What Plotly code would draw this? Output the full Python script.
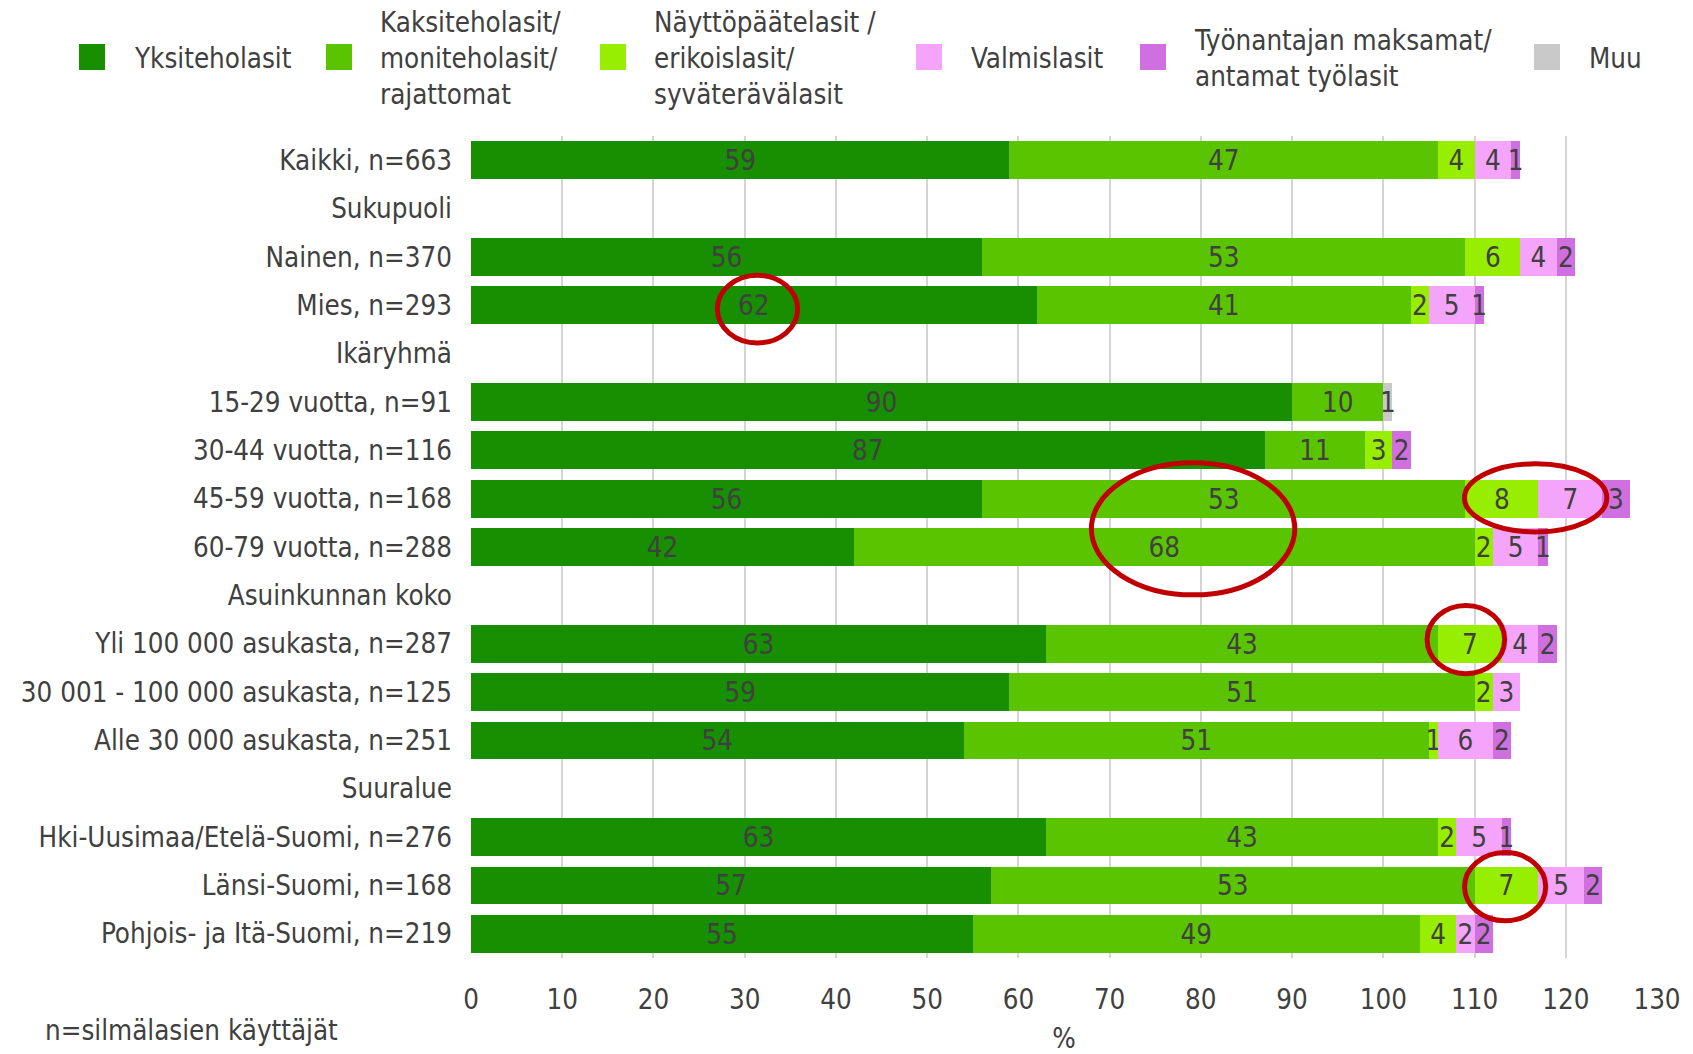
import plotly.graph_objects as go

# ---------------- data ----------------
categories = [
    "Kaikki, n=663", "Sukupuoli", "Nainen, n=370", "Mies, n=293", "Ikäryhmä",
    "15-29 vuotta, n=91", "30-44 vuotta, n=116", "45-59 vuotta, n=168",
    "60-79 vuotta, n=288", "Asuinkunnan koko", "Yli 100 000 asukasta, n=287",
    "30 001 - 100 000 asukasta, n=125", "Alle 30 000 asukasta, n=251", "Suuralue",
    "Hki-Uusimaa/Etelä-Suomi, n=276", "Länsi-Suomi, n=168", "Pohjois- ja Itä-Suomi, n=219",
]
series_names = [
    "Yksiteholasit",
    "Kaksiteholasit/<br>moniteholasit/<br>rajattomat",
    "Näyttöpäätelasit /<br>erikoislasit/<br>syväterävälasit",
    "Valmislasit",
    "Työnantajan maksamat/<br>antamat työlasit",
    "Muu",
]
yksiteholasit = [59, None, 56, 62, None, 90, 87, 56, 42, None, 63, 59, 54, None, 63, 57, 55]
kaksiteholasit = [47, None, 53, 41, None, 10, 11, 53, 68, None, 43, 51, 51, None, 43, 53, 49]
nayttopaatelasit = [4, None, 6, 2, None, None, 3, 8, 2, None, 7, 2, 1, None, 2, 7, 4]
valmislasit = [4, None, 4, 5, None, None, None, 7, 5, None, 4, 3, 6, None, 5, 5, 2]
tyonantajan = [1, None, 2, 1, None, None, 2, 3, 1, None, 2, None, 2, None, 1, 2, 2]
muu = [None, None, None, None, None, 1, None, None, None, None, None, None, None, None, None, None, None]
x_ticks = list(range(0, 131, 10))
x_title = "%"
footnote = "n=silmälasien käyttäjät"

# highlighted cells (x-range in %, row range) - red ellipses
highlights = [
    (27.0, 35.8, 2.38, 3.78),
    (68.0, 90.3, 6.26, 8.99),
    (108.9, 124.5, 6.28, 7.69),
    (104.8, 113.3, 9.21, 10.62),
    (108.9, 117.8, 14.32, 15.73),
]

# ---------------- style ----------------
colors = ["#178F00", "#5BC400", "#97EE00", "#F4A4FA", "#D070E0", "#C9C9C9"]
TXT = "#404040"
FONT = "DejaVu Sans Condensed, Liberation Sans Narrow, Liberation Sans, sans-serif"
FS = 27.5
W, H = 1693, 1054
L, R, T, B = 471, 36, 136, 96

all_series = [yksiteholasit, kaksiteholasit, nayttopaatelasit, valmislasit, tyonantajan, muu]
ypos = list(range(len(categories)))

fig = go.Figure()
for name, vals, col in zip(series_names, all_series, colors):
    fig.add_trace(go.Bar(
        y=ypos, x=vals, orientation="h", name=name.replace("<br>", " "),
        marker=dict(color=col, line=dict(width=0)),
        texttemplate="%{x}", textposition="inside", insidetextanchor="middle",
        textangle=0, textfont=dict(color=TXT, size=FS, family=FONT),
        cliponaxis=False, showlegend=False,
    ))

shapes = []
for x0, x1, y0, y1 in highlights:
    shapes.append(dict(type="circle", xref="x", yref="y", x0=x0, x1=x1, y0=y0, y1=y1,
                       line=dict(color="#C00000", width=5), layer="above"))

# manual legend (paper coordinates computed from page pixel positions)
pw, ph = W - L - R, H - T - B
def px(xp):
    return (xp - L) / pw
def py(yp):
    return (H - B - yp) / ph

legend_items = [(79, 132), (326, 378), (600, 652), (916, 969), (1140, 1192), (1534, 1587)]
annotations = []
LEG_Y = 57
for (sx, tx), name, col in zip(legend_items, series_names, colors):
    shapes.append(dict(type="rect", xref="paper", yref="paper",
                       x0=px(sx), x1=px(sx + 26), y0=py(LEG_Y - 13), y1=py(LEG_Y + 13),
                       fillcolor=col, line=dict(width=0)))
    annotations.append(dict(xref="paper", yref="paper", x=px(tx), y=py(LEG_Y + 1),
                            xanchor="left", yanchor="middle", align="left", showarrow=False,
                            text=name, font=dict(size=FS, color=TXT, family=FONT)))

annotations.append(dict(xref="paper", yref="paper", x=px(43), y=py(1030),
                        xanchor="left", yanchor="middle", showarrow=False, text=footnote,
                        font=dict(size=FS, color=TXT, family=FONT)))

fig.update_layout(
    width=W, height=H, barmode="stack", bargap=0.22,
    margin=dict(l=L, r=R, t=T, b=B, pad=0, autoexpand=False),
    paper_bgcolor="white", plot_bgcolor="white",
    font=dict(family=FONT, size=FS, color=TXT),
    uniformtext=dict(minsize=FS, mode="show"),
    shapes=shapes, annotations=annotations,
    xaxis=dict(range=[0, 130], tickvals=x_ticks, showgrid=True, gridcolor="#D4D4D4",
               gridwidth=2, zeroline=False, showline=False, ticks="", automargin=False,
               ticklabelstandoff=22, tickfont=dict(size=FS, color=TXT),
               title=dict(text=x_title, standoff=29, font=dict(size=FS, color=TXT))),
    yaxis=dict(range=[len(categories) - 0.5, -0.5], tickvals=ypos, ticktext=categories,
               showgrid=False, zeroline=False, showline=False, ticks="", automargin=False,
               ticklabelstandoff=18, tickfont=dict(size=FS, color=TXT)),
)

fig.write_html(
    "out.html",
    config={"displayModeBar": False},
    post_script="document.body.style.margin='0px';document.body.style.overflow='hidden';",
)
